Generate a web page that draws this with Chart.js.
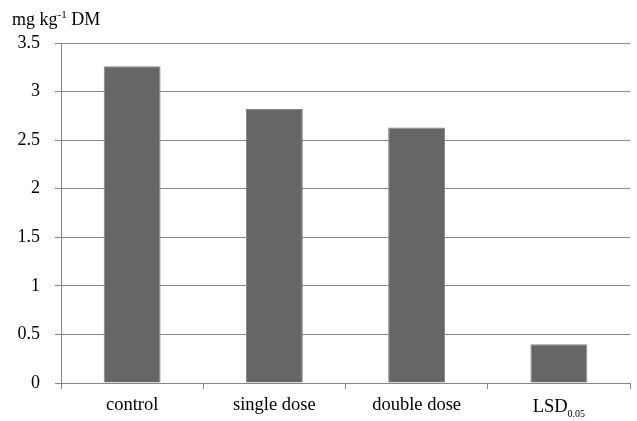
<!DOCTYPE html>
<html>
<head>
<meta charset="utf-8">
<script src="https://cdn.jsdelivr.net/npm/chart.js@4.4.0/dist/chart.umd.min.js"></script>
<style>
  html, body { margin: 0; padding: 0; background: #fff; }
  #wrap { width: 637px; height: 421px; position: relative; }
</style>
</head>
<body>
<div id="wrap"><canvas id="myChart" width="637" height="421"></canvas></div>
<script>
// data
const categories = ['control', 'single dose', 'double dose', 'LSD'];
const values = [3.26, 2.82, 2.63, 0.40];
const yTicks = [0, 0.5, 1, 1.5, 2, 2.5, 3, 3.5];

const FONT = '"Liberation Serif", "Times New Roman", serif';
const GRID = '#878787';

// draws the unit label (with superscript) and the LSD subscript
const extraText = {
    id: 'extraText',
    afterDraw(chart) {
        const ctx = chart.ctx;
        ctx.save();
        ctx.fillStyle = '#000';
        ctx.textBaseline = 'alphabetic';
        ctx.textAlign = 'left';
        // unit label
        let x = 12, y = 25;
        ctx.font = '18px ' + FONT;
        ctx.fillText('mg kg', x, y);
        x += ctx.measureText('mg kg').width;
        ctx.font = '11px ' + FONT;
        ctx.fillText('-1', x, y - 7);
        x += ctx.measureText('-1').width;
        ctx.font = '18px ' + FONT;
        ctx.fillText(' DM', x, y);

        // subscript for LSD
        const xs = chart.scales.x;
        const px = xs.getPixelForTick(3);
        ctx.font = '18.5px ' + FONT;
        const w1 = ctx.measureText('LSD').width;
        ctx.font = '10px ' + FONT;
        const w2 = ctx.measureText('0.05').width;
        const start = px - (w1 + w2) / 2;
        ctx.font = '18.5px ' + FONT;
        ctx.fillText('LSD', start, 412);
        ctx.font = '10px ' + FONT;
        ctx.fillText('0.05', start + w1, 417);
        ctx.restore();
    }
};

const ctx = document.getElementById('myChart').getContext('2d');
new Chart(ctx, {
    type: 'bar',
    data: {
        labels: categories,
        datasets: [{
            data: values,
            backgroundColor: '#666666',
            borderColor: '#858585',
            borderWidth: 1,
            categoryPercentage: 1,
            barPercentage: 0.4
        }]
    },
    options: {
        responsive: false,
        animation: false,
        layout: { padding: { top: 43, right: 7, left: 0, bottom: 0 } },
        plugins: {
            legend: { display: false },
            tooltip: { enabled: false }
        },
        scales: {
            y: {
                min: 0,
                max: 3.5,
                afterFit: s => { s.width = 61; },
                afterBuildTicks: s => { s.ticks = yTicks.map(v => ({ value: v })); },
                ticks: {
                    color: '#000',
                    padding: 15,
                    font: { family: FONT, size: 18 },
                    callback: v => String(v)
                },
                grid: { color: GRID, lineWidth: 1, tickLength: 6 },
                border: { color: GRID, width: 1 }
            },
            x: {
                afterFit: s => { s.height = 38; },
                ticks: {
                    color: '#000',
                    padding: 5,
                    font: { family: FONT, size: 18.5 },
                    callback: (v, i) => i === 3 ? '' : categories[i]
                },
                grid: { color: GRID, lineWidth: 1, tickLength: 6, drawOnChartArea: false, offset: true },
                border: { color: GRID, width: 1 }
            }
        }
    },
    plugins: [extraText]
});
</script>
</body>
</html>
